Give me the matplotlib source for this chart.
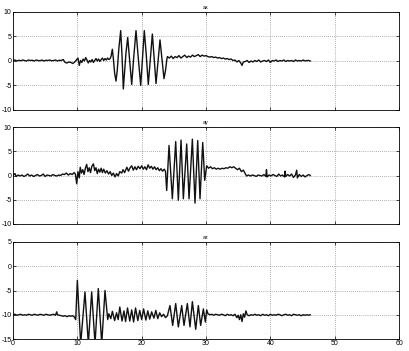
import matplotlib
matplotlib.use("Agg")
import matplotlib.pyplot as plt

plt.rcParams["font.family"] = ["Liberation Sans", "DejaVu Sans"]
plt.rcParams["axes.unicode_minus"] = False

# (time, value) pairs
ax_pts = [
    (0.0, 0.1), (0.3, 0.2), (0.6, 0.0), (0.9, 0.15), (1.2, 0.05), (1.5, 0.2), (1.8, 0.1),
    (2.1, 0.0), (2.4, 0.2), (2.7, 0.1), (3.0, 0.15), (3.3, 0.0), (3.6, 0.2), (3.9, 0.1),
    (4.2, 0.05), (4.5, 0.2), (4.8, 0.0), (5.1, 0.15), (5.4, 0.1), (5.7, 0.2), (6.0, 0.05),
    (6.3, 0.1), (6.6, 0.2), (6.9, 0.0), (7.2, 0.15), (7.5, 0.1), (7.8, 0.3),
    (8.1, -0.3), (8.4, -0.4), (8.7, -0.2), (9.0, -0.3), (9.3, -0.5), (9.6, -0.2), (9.9, 0.3),
    (10.1, 0.6), (10.3, -0.9), (10.5, 0.1), (10.7, -0.3), (10.9, 0.4), (11.1, 0.0),
    (11.3, 0.7), (11.5, 0.2), (11.7, -0.4), (11.9, 0.1), (12.1, -0.2), (12.3, 0.3),
    (12.5, -0.3), (12.7, 0.1), (12.9, 0.5), (13.1, 0.0), (13.3, 0.4), (13.5, -0.1),
    (13.7, 0.3), (13.9, 0.6), (14.1, 0.1), (14.3, 0.5), (14.5, 0.2), (14.7, 0.6),
    (14.9, 0.3), (15.1, 0.5),
    (15.25, 1.0), (15.44, 2.4), (15.6, 0.5), (15.8, -2.5), (16.01, -4.1), (16.2, -2.0),
    (16.45, 2.5), (16.74, 6.2), (16.95, 1.0), (17.15, -5.7), (17.35, -2.0), (17.55, 1.5),
    (17.83, 4.8), (18.1, 0.5), (18.45, -4.8), (18.75, 0.5), (19.12, 6.2), (19.45, 1.0),
    (19.85, -5.0), (20.1, 0.0), (20.41, 6.2), (20.7, 1.5), (21.03, -4.8), (21.35, 0.5),
    (21.66, 5.5), (21.95, 0.5), (22.23, -4.6), (22.55, 0.0), (22.85, 4.3), (23.15, 0.5),
    (23.47, -3.6), (23.7, -2.0), (23.9, 0.2), (24.0, 0.9),
    (24.3, 0.6), (24.6, 1.0), (24.9, 0.5), (25.2, 0.9), (25.5, 0.7), (25.8, 1.1),
    (26.1, 0.6), (26.4, 0.9), (26.7, 1.2), (27.0, 0.7), (27.3, 1.0), (27.6, 0.8),
    (27.9, 1.2), (28.2, 0.9), (28.5, 1.1), (28.8, 1.3), (29.1, 0.9), (29.4, 1.2),
    (29.7, 1.0), (30.0, 1.1), (30.3, 0.9), (30.6, 0.8), (30.9, 0.9), (31.2, 0.7),
    (31.5, 0.8), (31.8, 0.6), (32.1, 0.7), (32.4, 0.5), (32.7, 0.6), (33.0, 0.4),
    (33.3, 0.5), (33.6, 0.3), (33.9, 0.4), (34.2, 0.1), (34.5, 0.2), (34.8, -0.2),
    (35.1, 0.1), (35.4, -0.4), (35.6, -0.9), (35.8, -0.2), (36.1, -0.1),
    (36.4, 0.1), (36.7, -0.3), (37.0, 0.0), (37.3, -0.2), (37.6, 0.1), (37.9, -0.1),
    (38.2, 0.2), (38.5, -0.2), (38.8, 0.0), (39.1, 0.1), (39.4, -0.1), (39.7, 0.2),
    (40.0, -0.3), (40.3, 0.1), (40.6, 0.0), (40.9, 0.2), (41.2, -0.1), (41.5, 0.1),
    (41.8, 0.0), (42.1, 0.2), (42.4, -0.1), (42.7, 0.1), (43.0, 0.0), (43.3, 0.1),
    (43.6, -0.1), (43.9, 0.2), (44.2, 0.0), (44.5, 0.1), (44.8, 0.0), (45.1, 0.2),
    (45.4, 0.0), (45.7, 0.1), (46.0, 0.1), (46.2, 0.0),
]

ay_pts = [
    (0.0, 0.0), (0.3, 0.4), (0.5, -0.2), (0.8, 0.1), (1.1, -0.1), (1.4, 0.1), (1.7, -0.2),
    (2.0, 0.0), (2.3, 0.3), (2.6, -0.1), (2.9, 0.1), (3.2, -0.2), (3.5, 0.0), (3.8, 0.2),
    (4.1, -0.1), (4.4, 0.0), (4.7, 0.3), (5.0, -0.2), (5.3, 0.1), (5.6, 0.0), (5.9, -0.1),
    (6.2, 0.2), (6.5, 0.0), (6.8, -0.1), (7.1, 0.1), (7.4, 0.0), (7.7, 0.3), (8.0, 0.2),
    (8.3, 0.5), (8.6, 0.1), (8.9, 0.4), (9.2, 0.2), (9.5, 0.6), (9.7, 0.3),
    (9.9, -1.7), (10.1, 0.8), (10.3, -0.5), (10.45, 1.7), (10.65, 0.5), (10.85, 1.2),
    (11.05, 0.2), (11.25, 1.5), (11.45, 2.3), (11.65, 0.8), (11.85, 1.6), (12.05, 0.6),
    (12.25, 1.9), (12.5, 2.4), (12.7, 1.0), (12.9, 1.6), (13.1, 0.4), (13.3, 1.3),
    (13.5, 0.7), (13.7, 1.5), (13.9, 0.6), (14.1, 1.3), (14.35, 0.5), (14.6, 1.0),
    (14.85, 0.3), (15.1, 0.8), (15.35, 0.0), (15.6, 0.5), (15.86, -0.3), (16.1, 0.4),
    (16.35, -0.1), (16.6, 0.8), (16.9, 0.5), (17.1, 1.2), (17.35, 0.6), (17.7, 1.7),
    (17.95, 0.9), (18.2, 1.6), (18.45, 2.0), (18.7, 1.1), (18.95, 1.8), (19.2, 1.2),
    (19.45, 1.9), (19.74, 1.4), (20.0, 2.0), (20.25, 1.3), (20.5, 1.8), (20.75, 1.2),
    (21.0, 2.2), (21.25, 1.5), (21.5, 1.9), (21.75, 1.3), (22.0, 1.8), (22.25, 1.2),
    (22.5, 1.6), (22.75, 1.0), (23.0, 1.4), (23.25, 0.9), (23.5, 1.3), (23.7, 0.9),
    (23.89, -3.1), (24.25, 6.2), (24.77, -4.8), (25.29, 7.0), (25.7, -5.1), (26.12, 7.3),
    (26.48, -4.8), (27.0, 6.5), (27.36, -4.8), (27.88, 7.5), (28.29, -5.7), (28.71, 7.2),
    (29.07, -4.8), (29.49, 6.8), (29.8, -1.0), (30.11, 2.0),
    (30.4, 1.5), (30.7, 1.8), (31.0, 1.4), (31.3, 1.6), (31.6, 1.3), (31.9, 1.5),
    (32.2, 1.3), (32.5, 1.5), (32.8, 1.4), (33.1, 1.6), (33.4, 1.5), (33.7, 1.8),
    (34.0, 1.6), (34.3, 1.8), (34.6, 1.5), (34.9, 1.2), (35.2, 1.5), (35.5, 0.8),
    (35.8, 1.1), (36.1, 0.4), (36.3, -0.1),
    (36.6, 0.1), (36.9, -0.1), (37.2, 0.1), (37.5, 0.0), (37.8, -0.2), (38.1, 0.1),
    (38.4, 0.0), (38.7, -0.1), (39.0, 0.2), (39.3, -0.2), (39.4, 1.2), (39.5, -0.3),
    (39.8, 0.1), (40.1, -0.1), (40.4, 0.2), (40.7, 0.0), (41.0, -0.2), (41.3, 0.3),
    (41.6, -0.1), (41.9, 0.1), (42.2, -0.3), (42.3, 0.9), (42.4, -0.2), (42.7, 0.2),
    (43.0, -0.1), (43.3, 0.3), (43.6, -0.4), (43.9, 0.1), (44.1, 1.1), (44.2, -0.5),
    (44.5, 0.2), (44.8, -0.2), (45.1, 0.1), (45.4, -0.3), (45.7, 0.0), (46.0, 0.2),
    (46.2, 0.0),
]

az_pts = [
    (0.0, -10.0), (0.3, -9.9), (0.6, -10.1), (0.9, -10.0), (1.2, -9.9), (1.5, -10.1),
    (1.8, -10.0), (2.1, -10.1), (2.4, -9.9), (2.7, -10.0), (3.0, -10.1), (3.3, -9.9),
    (3.6, -10.0), (3.9, -10.1), (4.2, -9.9), (4.5, -10.0), (4.8, -10.1), (5.1, -9.9),
    (5.4, -10.0), (5.7, -10.1), (6.0, -10.0), (6.3, -9.9), (6.6, -10.1), (6.8, -9.4),
    (6.9, -10.0), (7.2, -10.1), (7.5, -10.2), (7.8, -10.3), (8.1, -10.2), (8.4, -10.4),
    (8.7, -10.2), (9.0, -10.3), (9.3, -10.2), (9.55, -10.5), (9.75, -11.0),
    (10.0, -2.9), (10.52, -16.0), (11.19, -5.3), (11.71, -16.0), (12.23, -5.3),
    (12.75, -16.0), (13.26, -4.6), (13.79, -16.0), (14.3, -5.0), (14.72, -11.0),
    (14.9, -9.8), (15.2, -10.8), (15.45, -9.3), (15.8, -11.2), (16.1, -9.6), (16.35, -11.0),
    (16.6, -8.4), (16.95, -11.3), (17.25, -9.2), (17.5, -11.4), (17.8, -8.6), (18.15, -11.3),
    (18.45, -9.0), (18.75, -11.5), (19.05, -8.6), (19.4, -11.2), (19.7, -9.1), (20.0, -11.0),
    (20.3, -8.8), (20.65, -11.1), (20.95, -9.2), (21.25, -10.9), (21.55, -9.4), (21.9, -10.7),
    (22.2, -9.1), (22.5, -10.8), (22.8, -9.6), (23.1, -10.4), (23.4, -9.9), (23.7, -10.6),
    (24.0, -10.2),
    (24.4, -8.1), (24.82, -12.2), (25.29, -7.7), (25.7, -12.5), (26.22, -8.1), (26.58, -12.2),
    (27.1, -7.7), (27.51, -12.5), (27.88, -7.3), (28.4, -13.0), (28.81, -8.1), (29.17, -12.2),
    (29.59, -8.8), (29.9, -11.5), (30.11, -9.0),
    (30.3, -9.8), (30.6, -10.0), (30.9, -9.9), (31.2, -10.1), (31.5, -9.9), (31.8, -10.0),
    (32.1, -10.1), (32.4, -9.9), (32.7, -10.0), (33.0, -10.2), (33.3, -9.9), (33.6, -10.1),
    (33.9, -10.0), (34.2, -10.2), (34.5, -9.9), (34.8, -10.6), (35.0, -10.1), (35.2, -11.0),
    (35.4, -10.0), (35.6, -11.4), (35.8, -9.8), (36.0, -10.5), (36.2, -9.2), (36.4, -10.0),
    (36.7, -10.2), (37.0, -10.0), (37.3, -10.1), (37.6, -9.9), (37.9, -10.1), (38.2, -10.0),
    (38.5, -10.2), (38.8, -9.9), (39.1, -10.1), (39.4, -10.0), (39.7, -10.2), (40.0, -9.9),
    (40.3, -10.1), (40.6, -10.0), (40.9, -10.1), (41.2, -9.9), (41.5, -10.0), (41.8, -10.2),
    (42.1, -10.0), (42.4, -9.9), (42.7, -10.1), (43.0, -10.0), (43.3, -10.2), (43.6, -9.9),
    (43.9, -10.0), (44.2, -10.1), (44.5, -10.0), (44.8, -10.2), (45.1, -10.0), (45.4, -10.1),
    (45.7, -10.0), (46.0, -10.1), (46.2, -10.0),
]

titles = ["ax", "ay", "az"]
ylims = [(-10, 10), (-10, 10), (-15, 5)]
yticks = [[-10, -5, 0, 5, 10], [-10, -5, 0, 5, 10], [-15, -10, -5, 0, 5]]
xticks = [0, 10, 20, 30, 40, 50, 60]

fig = plt.figure(figsize=(4.09, 3.51), dpi=100)
# axes boxes measured in pixels: (top, bottom)
boxes = [(12, 110), (127, 224), (242, 339)]
W, H = 409, 351
left, right = 13, 399

for i, pts in enumerate([ax_pts, ay_pts, az_pts]):
    top, bot = boxes[i]
    ax = fig.add_axes([left / W, 1 - bot / H, (right - left) / W, (bot - top) / H])
    t = [p[0] for p in pts]
    v = [p[1] for p in pts]
    ax.plot(t, v, color="#111111", lw=1.0)
    ax.set_xlim(0, 60)
    ax.set_ylim(*ylims[i])
    ax.set_xticks(xticks)
    ax.set_yticks(yticks[i])
    ax.grid(True, linestyle=(0, (1, 2)), color="#666666", lw=0.5)
    ax.tick_params(direction="in", length=2, width=0.5, labelsize=5, pad=1,
                   top=True, right=True)
    if i < 2:
        ax.set_xticklabels([])
    for s in ax.spines.values():
        s.set_linewidth(0.6)
    ax.set_title(titles[i], fontsize=4, pad=2)

fig.savefig("out.png", dpi=100)
